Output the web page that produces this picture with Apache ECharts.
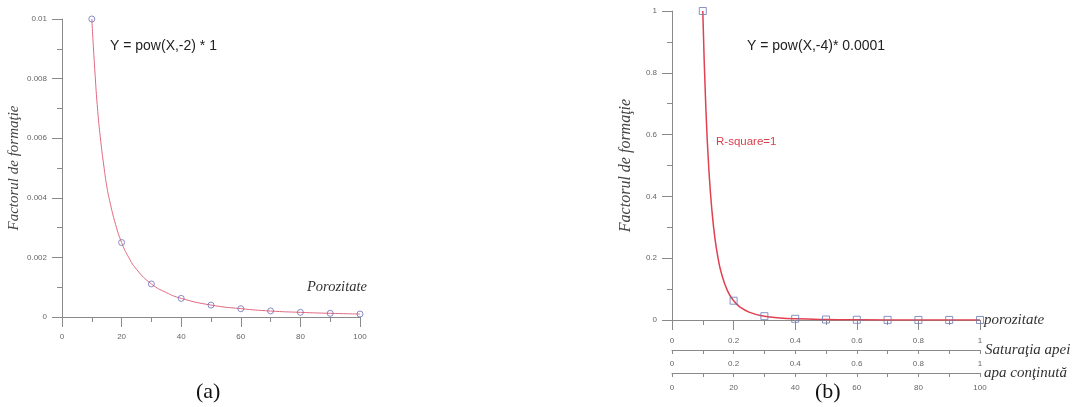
<!DOCTYPE html>
<html>
<head>
<meta charset="utf-8">
<script src="https://cdn.jsdelivr.net/npm/echarts@6/dist/echarts.min.js"></script>
<style>
html,body{margin:0;padding:0;background:#fff;}
#c{width:1074px;height:407px;}
</style>
</head>
<body>
<div id="c"></div>
<script>
// ---- Data ----
const aPointsX = [10, 20, 30, 40, 50, 60, 70, 80, 90, 100];
const aPointsY = [0.01, 0.0025, 0.00111, 0.000625, 0.0004, 0.000278, 0.000204, 0.000156, 0.000123, 0.0001];
const aCurveX = [10, 11, 12, 13, 14, 15, 16, 18, 20, 22, 25, 30, 35, 40, 50, 60, 70, 80, 90, 100];
const aCurveY = [0.01, 0.0083, 0.0069, 0.0059, 0.0051, 0.0044, 0.0039, 0.0031, 0.0025, 0.00207, 0.0016, 0.00111, 0.00082, 0.000625, 0.0004, 0.00028, 0.0002, 0.000156, 0.000123, 0.0001];

const bPointsX = [0.1, 0.2, 0.3, 0.4, 0.5, 0.6, 0.7, 0.8, 0.9, 1.0];
const bPointsY = [1, 0.0625, 0.0123, 0.0039, 0.0016, 0.00077, 0.00042, 0.00024, 0.00015, 0.0001];
const bCurveX = [0.1, 0.11, 0.12, 0.13, 0.14, 0.15, 0.16, 0.18, 0.2, 0.22, 0.25, 0.3, 0.35, 0.4, 0.5, 0.6, 0.8, 1.0];
const bCurveY = [1, 0.683, 0.482, 0.35, 0.26, 0.198, 0.153, 0.095, 0.0625, 0.0427, 0.0256, 0.0123, 0.0067, 0.0039, 0.0016, 0.00077, 0.00024, 0.0001];

const zip = (xs, ys) => xs.map((x, i) => [x, ys[i]]);

const axisColor = '#8a8a8a';
const labelStyle = {color: '#666', fontSize: 8, fontFamily: 'Liberation Sans, Arial, sans-serif'};
const nameStyleSerif = {fontFamily: 'Liberation Serif, Times New Roman, serif', fontStyle: 'italic', color: '#333'};

function valAxis(o) {
  return Object.assign({
    type: 'value',
    splitLine: {show: false},
    axisLine: {show: true, onZero: false, lineStyle: {color: axisColor, width: 1}},
    axisTick: {show: true, length: 10, lineStyle: {color: axisColor}},
    minorTick: {show: true, splitNumber: 2, length: 5, lineStyle: {color: axisColor}},
    axisLabel: Object.assign({}, labelStyle)
  }, o);
}

const chart = echarts.init(document.getElementById('c'), null, {renderer: 'canvas'});
chart.setOption({
  animation: false,
  backgroundColor: '#fff',
  grid: [
    {left: 62, width: 298, top: 19, height: 298},
    {left: 672, width: 308, top: 11, height: 309}
  ],
  xAxis: [
    valAxis({gridIndex: 0, min: 0, max: 100, interval: 20,
      axisLabel: Object.assign({}, labelStyle, {margin: 16})}),
    valAxis({gridIndex: 1, min: 0, max: 1, interval: 0.2, position: 'bottom',
      axisLabel: Object.assign({}, labelStyle, {margin: 17}),
      name: 'porozitate', nameLocation: 'end', nameGap: 4,
      nameTextStyle: Object.assign({}, nameStyleSerif, {fontSize: 15})}),
    valAxis({gridIndex: 1, min: 0, max: 1, interval: 0.2, position: 'bottom', offset: 30,
      axisTick: {show: true, length: 4, lineStyle: {color: axisColor}},
      minorTick: {show: true, splitNumber: 2, length: 4, lineStyle: {color: axisColor}},
      axisLabel: Object.assign({}, labelStyle, {margin: 10}),
      name: 'Saturaţia apei', nameLocation: 'end', nameGap: 5,
      nameTextStyle: Object.assign({}, nameStyleSerif, {fontSize: 15})}),
    valAxis({gridIndex: 1, min: 0, max: 100, interval: 20, position: 'bottom', offset: 53,
      axisTick: {show: true, length: 4, lineStyle: {color: axisColor}},
      minorTick: {show: true, splitNumber: 2, length: 4, lineStyle: {color: axisColor}},
      axisLabel: Object.assign({}, labelStyle, {margin: 11}),
      name: 'apa conţinută', nameLocation: 'end', nameGap: 4,
      nameTextStyle: Object.assign({}, nameStyleSerif, {fontSize: 15})})
  ],
  yAxis: [
    valAxis({gridIndex: 0, min: 0, max: 0.01, interval: 0.002,
      axisLabel: Object.assign({}, labelStyle, {margin: 15}),
      name: 'Factorul de formaţie', nameLocation: 'middle', nameGap: 40,
      nameTextStyle: Object.assign({}, nameStyleSerif, {fontSize: 15, color: '#444'})}),
    valAxis({gridIndex: 1, min: 0, max: 1, interval: 0.2,
      axisLabel: Object.assign({}, labelStyle, {margin: 15}),
      name: 'Factorul de formaţie', nameLocation: 'middle', nameGap: 38,
      nameTextStyle: Object.assign({}, nameStyleSerif, {fontSize: 16, color: '#444'})})
  ],
  series: [
    {type: 'line', xAxisIndex: 0, yAxisIndex: 0, data: zip(aCurveX, aCurveY), smooth: true,
      showSymbol: false, lineStyle: {color: '#e06a80', width: 1}, z: 2},
    {type: 'scatter', xAxisIndex: 0, yAxisIndex: 0, data: zip(aPointsX, aPointsY), symbol: 'circle',
      symbolSize: 6, itemStyle: {color: 'rgba(255,255,255,0)', borderColor: '#6a70b8', borderWidth: 1}, z: 3},
    {type: 'line', xAxisIndex: 1, yAxisIndex: 1, data: zip(bCurveX, bCurveY), smooth: true,
      showSymbol: false, lineStyle: {color: '#e0404f', width: 1.5}, z: 2},
    {type: 'scatter', xAxisIndex: 1, yAxisIndex: 1, data: zip(bPointsX, bPointsY), symbol: 'rect',
      symbolSize: 7, itemStyle: {color: 'rgba(255,255,255,0)', borderColor: '#6a78b8', borderWidth: 1}, z: 3}
  ],
  graphic: [
    {type: 'text', left: 110, top: 39, style: {text: 'Y = pow(X,-2) * 1', fontSize: 14, fontFamily: 'Liberation Sans, Arial, sans-serif', fill: '#222'}},
    {type: 'text', left: 307, top: 280, style: {text: 'Porozitate', fontSize: 14.5, fontFamily: 'Liberation Serif, serif', fontStyle: 'italic', fill: '#333'}},
    {type: 'text', left: 196, top: 381, style: {text: '(a)', fontSize: 22, fontFamily: 'Liberation Serif, serif', fill: '#111'}},
    {type: 'text', left: 747, top: 39, style: {text: 'Y = pow(X,-4)* 0.0001', fontSize: 14, fontFamily: 'Liberation Sans, Arial, sans-serif', fill: '#222'}},
    {type: 'text', left: 716, top: 136, style: {text: 'R-square=1', fontSize: 11.5, fontFamily: 'Liberation Sans, Arial, sans-serif', fill: '#d9404c'}},
    {type: 'text', left: 815, top: 381, style: {text: '(b)', fontSize: 22, fontFamily: 'Liberation Serif, serif', fill: '#111'}}
  ]
});
</script>
</body>
</html>
